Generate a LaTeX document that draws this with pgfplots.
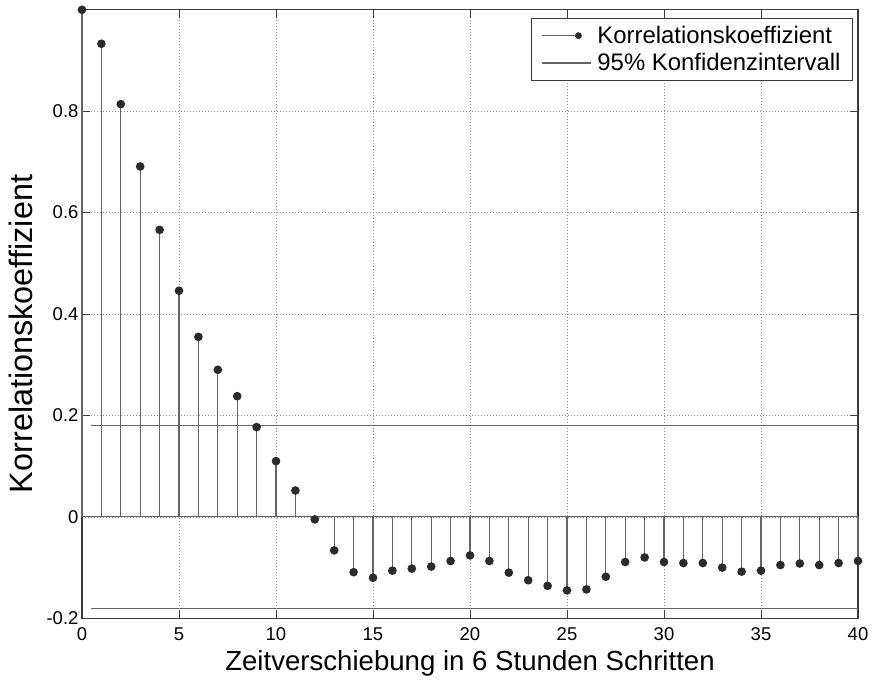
\documentclass[border=0pt]{standalone}
\usepackage{fontspec}
\setmainfont{Liberation Sans}
\usepackage{pgfplots}
\usepackage{pgfplotstable}
\pgfplotsset{compat=1.18}

\definecolor{axisgray}{HTML}{3A3A3A}
\definecolor{stemgray}{HTML}{656565}
\definecolor{dotgray}{HTML}{2B2B2B}
\definecolor{gridgray}{HTML}{8A8A8A}

% autocorrelation by lag (steps of 6 hours)
\pgfplotstableread{
lag r
0 1.000
1 0.933
2 0.814
3 0.691
4 0.566
5 0.446
6 0.355
7 0.290
8 0.238
9 0.177
10 0.110
11 0.052
12 -0.005
13 -0.066
14 -0.109
15 -0.120
16 -0.106
17 -0.102
18 -0.098
19 -0.087
20 -0.076
21 -0.087
22 -0.110
23 -0.125
24 -0.136
25 -0.145
26 -0.143
27 -0.118
28 -0.089
29 -0.080
30 -0.089
31 -0.091
32 -0.091
33 -0.100
34 -0.108
35 -0.106
36 -0.095
37 -0.092
38 -0.095
39 -0.091
40 -0.087
}\acf

\begin{document}
\begin{tikzpicture}
\begin{axis}[
  at={(0pt,0pt)}, anchor=south west,
  scale only axis, width=776pt, height=608.5pt,
  xmin=0, xmax=40, ymin=-0.2, ymax=1,
  xtick={0,5,...,40},
  ytick={-0.2,0,0.2,0.4,0.6,0.8},
  tick align=inside, major tick length=8pt,
  tick style={axisgray, line width=1pt},
  axis line style={axisgray, line width=1.2pt},
  grid=major,
  major grid style={gridgray, line width=0.7pt, dash pattern=on 1pt off 2pt},
  /pgf/number format/assume math mode=true,
  ticklabel style={font=\fontsize{18.5}{22}\selectfont, text=black},
  xticklabel style={yshift=-6pt},
  clip=false,
  legend style={at={(rel axis cs:0.99356,0.98685)}, anchor=north east,
    draw=axisgray, line width=0.9pt, fill=white,
    font=\fontsize{23.9}{28}\selectfont,
    inner xsep=10pt, inner ysep=6pt, row sep=4.5pt,
    cells={anchor=west}},
  legend cell align=left,
]
% stem baseline
\addplot[stemgray, line width=1.2pt, forget plot] coordinates {(0,0) (40,0)};
% correlation stems
\addplot[ycomb, stemgray, line width=1.2pt,
  mark=*, mark size=3.7pt, mark options={fill=dotgray, draw=dotgray},
  legend image code/.code={
    \path[draw=none] (0pt,0pt) -- (53pt,0pt);
    \draw[stemgray, line width=1.1pt] (0pt,0pt) -- (36pt,0pt);
    \fill[dotgray] (36pt,0pt) circle (2.8pt);}
  ] table[x=lag, y=r] {\acf};
\addlegendentry{Korrelationskoeffizient}
% 95% confidence bounds
\addplot[stemgray, line width=1.2pt,
  legend image code/.code={
    \path[draw=none] (0pt,0pt) -- (53pt,0pt);
    \draw[stemgray, line width=1.1pt] (0pt,0pt) -- (49pt,0pt);}
  ] coordinates {(0.45,0.18) (40,0.18)};
\addlegendentry{95\% Konfidenzintervall}
\addplot[stemgray, line width=1.2pt, forget plot] coordinates {(0.45,-0.18) (40,-0.18)};
\end{axis}
\node[anchor=base, font=\fontsize{27.6}{32}\selectfont] at (388pt,-52.7pt)
  {Zeitverschiebung in 6 Stunden Schritten};
\node[anchor=base, rotate=90, font=\fontsize{32.4}{38}\selectfont] at (-49pt,284.3pt)
  {Korrelationskoeffizient};
\pgfresetboundingbox
\path[use as bounding box] (-82pt,-65.7pt) rectangle (790pt,618.3pt);
\end{tikzpicture}
\end{document}
